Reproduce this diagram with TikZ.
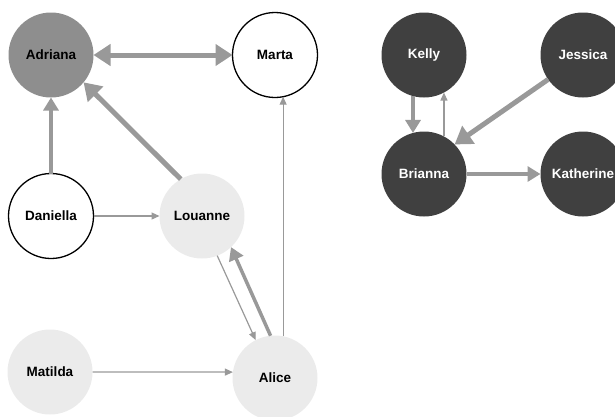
\documentclass[tikz,border=0pt]{standalone}
\usepackage{fontspec}
\setmainfont{Liberation Sans}
\usetikzlibrary{arrows.meta}
\definecolor{edgegray}{HTML}{999999}
\definecolor{midfill}{HTML}{8E8E8E}
\definecolor{lightfill}{HTML}{EBEBEB}
\definecolor{darkfill}{HTML}{404040}
\tikzset{
  person/.style={circle, minimum size=85pt, inner sep=0pt, outer sep=0pt,
    font=\fontsize{13.5pt}{15pt}\selectfont\bfseries},
  midnode/.style={person, fill=midfill, text=black},
  whitenode/.style={person, fill=white, draw=black, line width=1.3pt, text=black},
  lightnode/.style={person, fill=lightfill, text=black},
  darknode/.style={person, fill=darkfill, text=white},
  thickedge/.style={draw=edgegray, line width=5pt, -{Triangle[length=17pt,width=21pt]}},
  bothedge/.style={draw=edgegray, line width=5pt, {Triangle[length=17pt,width=21pt]}-{Triangle[length=17pt,width=21pt]}},
  mededge/.style={draw=edgegray, line width=3.5pt, -{Triangle[length=13pt,width=15pt]}},
  thinedge/.style={draw=edgegray, line width=1.2pt, -{Triangle[length=8pt,width=7pt]}}
}
\begin{document}
\begin{tikzpicture}[x=1pt,y=-1pt]
\useasboundingbox (0,0) rectangle (615,416);
\clip (0,0) rectangle (615,416);
\node[midnode]   (Adriana)   at (51,55)   {Adriana};
\node[whitenode] (Marta)     at (275,55)  {Marta};
\node[whitenode] (Daniella)  at (51,216)  {Daniella};
\node[lightnode] (Louanne)   at (202,216) {Louanne};
\node[lightnode] (Matilda)   at (50,372)  {Matilda};
\node[lightnode] (Alice)     at (275,378) {Alice};
\node[darknode]  (Kelly)     at (424,55)  {Kelly};
\node[darknode]  (Jessica)   at (583,55)  {Jessica};
\node[darknode]  (Brianna)   at (424,174) {Brianna};
\node[darknode]  (Katherine) at (583,174) {Katherine};

\draw[bothedge]  (Adriana.east) -- (Marta.west);
\draw[mededge]   (Daniella.north) -- (Adriana.south);
\draw[thickedge] (Louanne.120) -- (Adriana.-40);
\draw[thinedge]  (Daniella.east) -- (Louanne.west);
\draw[thinedge]  (Louanne.-69) -- (Alice.117);
\draw[mededge]   (Alice.96) -- (Louanne.-47);
\draw[thinedge]  (Matilda.east) -- (Alice.172);
\draw[thinedge]  (Alice.79) -- (Marta.-79);
\draw[mededge]   (Kelly.-105) -- (Brianna.105);
\draw[thinedge]  (Brianna.62) -- (Kelly.-62);
\draw[thickedge] (Jessica.-145) -- (Brianna.44);
\draw[mededge]   (Brianna.east) -- (Katherine.west);
\end{tikzpicture}
\end{document}
